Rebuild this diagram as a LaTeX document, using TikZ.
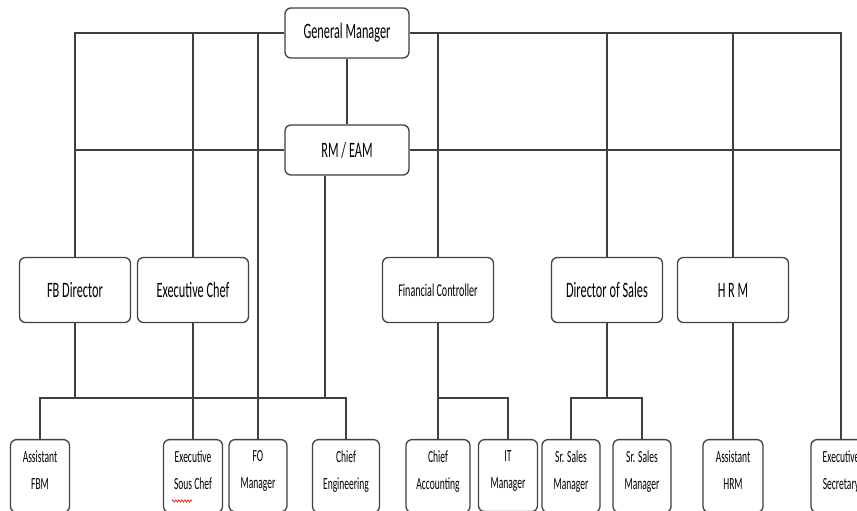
\documentclass[tikz,border=0pt]{standalone}
\usepackage{fontspec}
\setmainfont{Carlito}[FakeStretch=0.56]
\usetikzlibrary{decorations.pathmorphing}

\begin{document}
\begin{tikzpicture}[x=1pt,y=1pt,
  box/.style={draw=black!75,line width=1.3pt,rounded corners=6pt,fill=white,
    inner sep=0pt,align=center,text=black},
  topbox/.style={box,minimum width=124,minimum height=50,font=\fontsize{22}{26}\selectfont},
  midbox/.style={box,minimum width=111,minimum height=65,font=\fontsize{22}{26}\selectfont},
  lowbox/.style={box,anchor=north,minimum width=#1,inner ysep=11,text depth=12,
    font=\fontsize{17}{27}\selectfont},
  link/.style={draw=black!75,line width=1.3pt}]
\useasboundingbox (0,0) rectangle (857,511);
\clip (0,0) rectangle (857,511);

\node[topbox] (gm) at (347,478) {General Manager};
\node[topbox] (rm) at (347,361) {RM / EAM};

\node[midbox] (fbd) at (75,221) {FB Director};
\node[midbox] (chef) at (193,221) {Executive Chef};
\node[midbox,font=\fontsize{18}{22}\selectfont] (fc) at (438,221) {Financial Controller};
\node[midbox] (dos) at (607,221) {Director of Sales};
\node[midbox] (hrm) at (733,221) {H R M};

\node[lowbox=59] (afbm) at (40,72) {Assistant\\FBM};
\node[lowbox=59] (sous) at (193,72) {Executive\\Sous Chef};
\node[lowbox=58] (fo) at (258,72) {FO\\Manager};
\node[lowbox=67] (eng) at (346,72) {Chief\\Engineering};
\node[lowbox=64] (acc) at (438,72) {Chief\\Accounting};
\node[lowbox=59] (it) at (508,72) {IT\\Manager};
\node[lowbox=58] (ss1) at (571,72) {Sr. Sales\\Manager};
\node[lowbox=58] (ss2) at (642,72) {Sr. Sales\\Manager};
\node[lowbox=60] (ahrm) at (733,72) {Assistant\\HRM};
\node[lowbox=60] (sec) at (841,72) {Executive\\Secretary};

\coordinate (rmleg) at ([xshift=40.5pt]rm.south west);
\coordinate (bus) at (0,113);

% top and second line
\path[link] (gm.west) -| (fbd.north);
\path[link] (gm.east) -| (sec.north);
\path[link] (gm.south) -- (rm.north);
\path[link] (rm.west) -- (rm.west -| fbd.north);
\path[link] (rm.east) -- (rm.east -| sec.north);
\path[link] (gm.west -| chef.north) -- (chef.north);
\path[link] (gm.west -| fo.north) -- (fo.north);
\path[link] (gm.east -| fc.north) -- (fc.north);
\path[link] (gm.east -| dos.north) -- (dos.north);
\path[link] (gm.east -| hrm.north) -- (hrm.north);

% lower level
\path[link] (fbd.south) -- (fbd.south |- bus);
\path[link] (rmleg) -- (rmleg |- bus);
\path[link] (afbm.north) |- (eng.north |- bus) -- (eng.north);
\path[link] (chef.south) -- (sous.north);
\path[link] (fc.south) -- (acc.north);
\path[link] (fc.south |- bus) -| (it.north);
\path[link] (dos.south) -- (dos.south |- bus);
\path[link] (ss1.north) |- (ss2.north |- bus) -- (ss2.north);
\path[link] (hrm.south) -- (ahrm.north);

\draw[red,line width=0.6pt,decorate,decoration={snake,amplitude=1.2pt,segment length=3pt}]
  ([xshift=-21pt,yshift=-62pt]sous.north) -- ([xshift=-1pt,yshift=-62pt]sous.north);
\end{tikzpicture}
\end{document}
